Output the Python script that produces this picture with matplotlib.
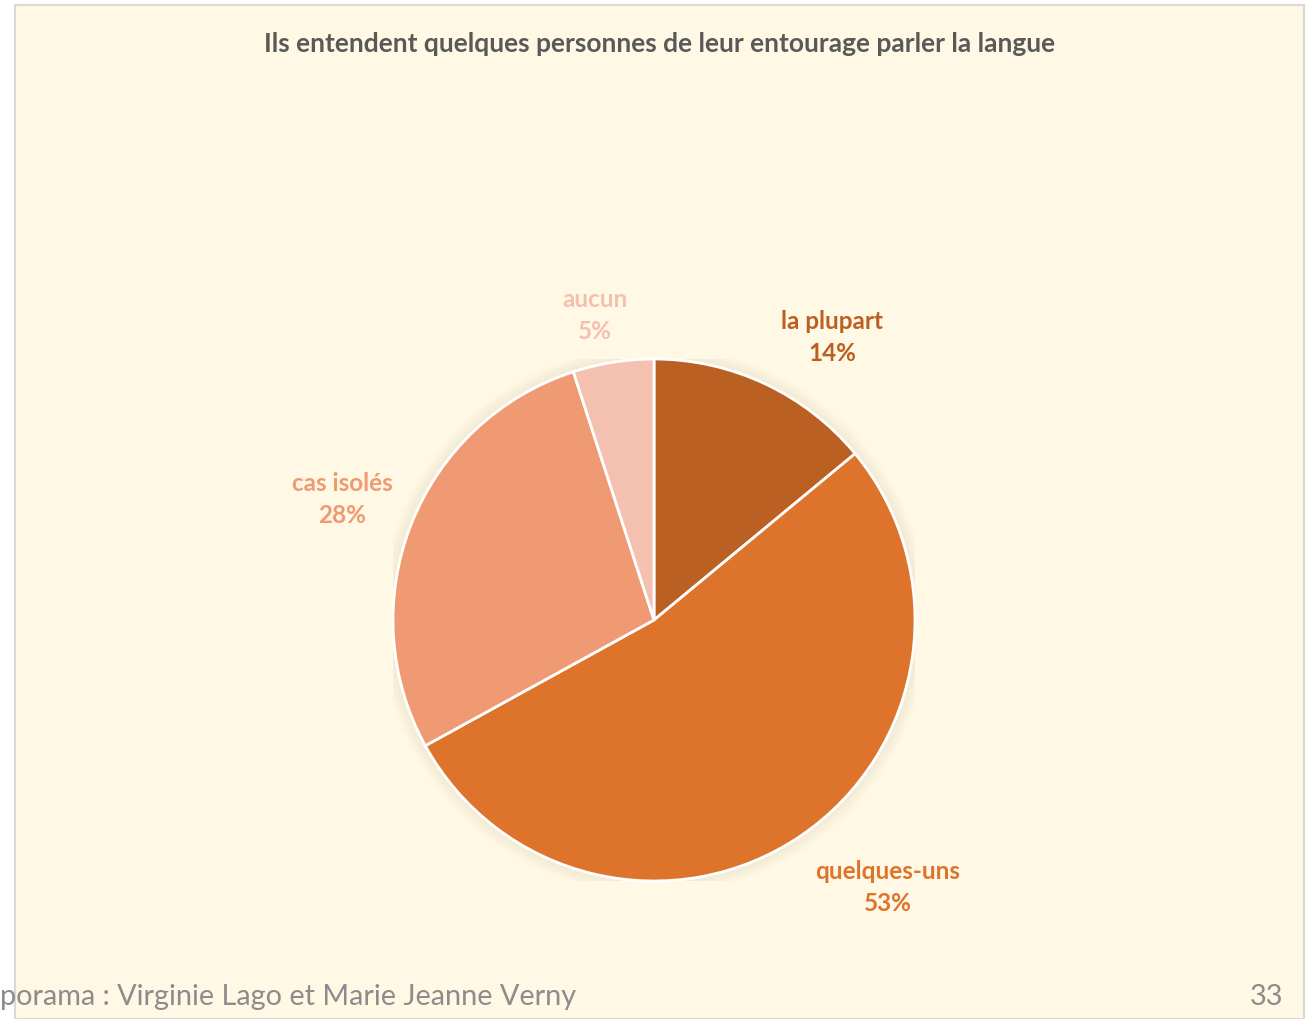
import numpy as np
import matplotlib.pyplot as plt
from matplotlib.patches import Rectangle, Circle

plt.rcParams['font.family'] = ['Lato', 'DejaVu Sans']

# data
categories = ["la plupart", "quelques-uns", "cas isolés", "aucun"]
values = [14, 53, 28, 5]
colors = ["#BA6022", "#DE742C", "#EF9A72", "#F4C1B0"]
title = "Ils entendent quelques personnes de leur entourage parler la langue"
footer = "porama : Virginie Lago et Marie Jeanne Verny"
page = "33"

# label placement (radius, angle shift in degrees), Excel "best fit" look
label_pos = [(1.28, -7), (1.36, 7), (1.28, 0.5), (1.19, 2)]

W, H = 1306, 1019
fig = plt.figure(figsize=(W / 100, H / 100), dpi=100)
fig.patch.set_facecolor("white")

# chart area with light border
fig.patches.append(Rectangle((15 / W, 0), (1304 - 15) / W, 1 - 5 / H,
                             transform=fig.transFigure, facecolor="#FFF8E5",
                             edgecolor="#D9D9D9", linewidth=1.5, zorder=-5))

cx, cy, r = 654, 620, 261
ax = fig.add_axes([(cx - r) / W, (H - cy - r) / H, 2 * r / W, 2 * r / H])
ax.set_facecolor("none")
ax.set_zorder(2)

# soft shadow around pie
for i in range(8):
    ax.add_patch(Circle((0, 0), 1 + 0.006 * (i + 1), facecolor="none",
                        edgecolor="#8a7a50", linewidth=2,
                        alpha=0.06 * (1 - i / 8), zorder=0))

wedges, _ = ax.pie(values, colors=colors, startangle=90, counterclock=False,
                   wedgeprops=dict(edgecolor="white", linewidth=2),
                   radius=1)
ax.set_xlim(-1, 1)
ax.set_ylim(-1, 1)
ax.set_aspect("equal")
ax.axis("off")

for w, cat, val, col, (rd, sh) in zip(wedges, categories, values, colors, label_pos):
    ang = np.deg2rad((w.theta1 + w.theta2) / 2 + sh)
    ax.text(rd * np.cos(ang), rd * np.sin(ang), f"{cat}\n{val}%",
            ha="center", va="center", color=col, fontsize=17.5,
            fontweight="bold", linespacing=1.48, clip_on=False)

fig.text(660 / W, 1 - 44 / H, title, ha="center", va="center",
         fontsize=19, fontweight="bold", color="#595959", zorder=3)

fig.text(0, 1 - 997 / H, footer, ha="left", va="center", fontsize=20.8,
         color="#8C8C8C", zorder=3)
fig.text(1283 / W, 1 - 997 / H, page, ha="right", va="center", fontsize=20.8,
         color="#8C8C8C", zorder=3)

fig.savefig("out.png", dpi=100, facecolor=fig.get_facecolor())
